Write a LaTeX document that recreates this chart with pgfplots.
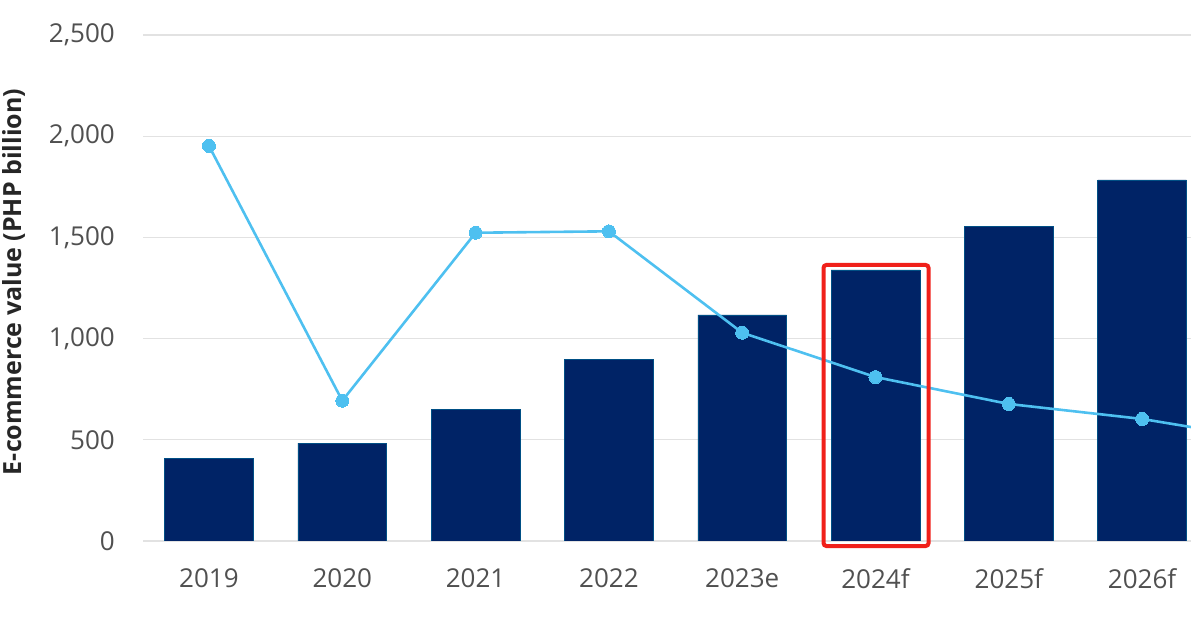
\documentclass[border=0pt]{standalone}
\usepackage{pgfplots}
\pgfplotsset{compat=1.18}
\usepackage{fontspec}
\setmainfont{Open Sans}
\definecolor{barnavy}{HTML}{002366}
\definecolor{linecyan}{HTML}{4EC0F0}
\definecolor{gridgray}{HTML}{E2E2E2}
\definecolor{ticktext}{HTML}{505050}
\definecolor{boxred}{HTML}{F0201A}

\begin{document}
\begin{tikzpicture}
\path[use as bounding box] (-143pt,-87pt) rectangle (1048pt,541pt);
\begin{axis}[%
width=1048pt,
height=506pt,
scale only axis,
xmin=-0.495,
xmax=7.367,
ymin=0,
ymax=2500,
ytick={0,500,1000,1500,2000,2500},
xtick={0,1,2,3,4,5,6,7},
xticklabels={2019,2020,2021,2022,2023e,2024f,2025f,2026f},
major tick length=0pt,
axis line style={draw=none},
ymajorgrids,
grid style={gridgray,line width=1.2pt},
/pgf/number format/assume math mode=true,
/pgf/number format/1000 sep={,},
tick label style={font=\fontsize{26}{31}\selectfont,text=ticktext},
yticklabel style={inner sep=0pt,anchor=east,xshift=-28pt},
xticklabel style={inner sep=0pt,anchor=north,yshift=-27pt},
ylabel={E-commerce value (PHP billion)},
ylabel style={at={(axis description cs:0,0.5)},anchor=north,inner sep=0pt,
  xshift=6pt,yshift=141pt,font=\bfseries\fontsize{25}{30}\selectfont,text=black!85},
clip marker paths=true,
]
% bars: e-commerce value
\addplot[ybar,bar width=0.665,fill=barnavy,draw=barnavy!80!cyan,line width=0.6pt]
 coordinates {(0,410) (1,484) (2,652) (3,899) (4,1117) (5,1339) (6,1556) (7,1784)};
% line: growth (secondary scale not shown)
\addplot[color=linecyan,line width=2.6pt,mark=*,mark size=6.5pt,
  mark options={fill=linecyan,draw=linecyan,line width=0pt}]
 coordinates {(0,1952) (1,693) (2,1523) (3,1530) (4,1029) (5,810) (6,677) (7,603) (8,494)};
\coordinate (boxA) at (axis cs:4.61,-25);
\coordinate (boxB) at (axis cs:5.398,1364);
\end{axis}
\draw[boxred,line width=4pt,rounded corners=3pt] (boxA) rectangle (boxB);
\end{tikzpicture}
\end{document}
